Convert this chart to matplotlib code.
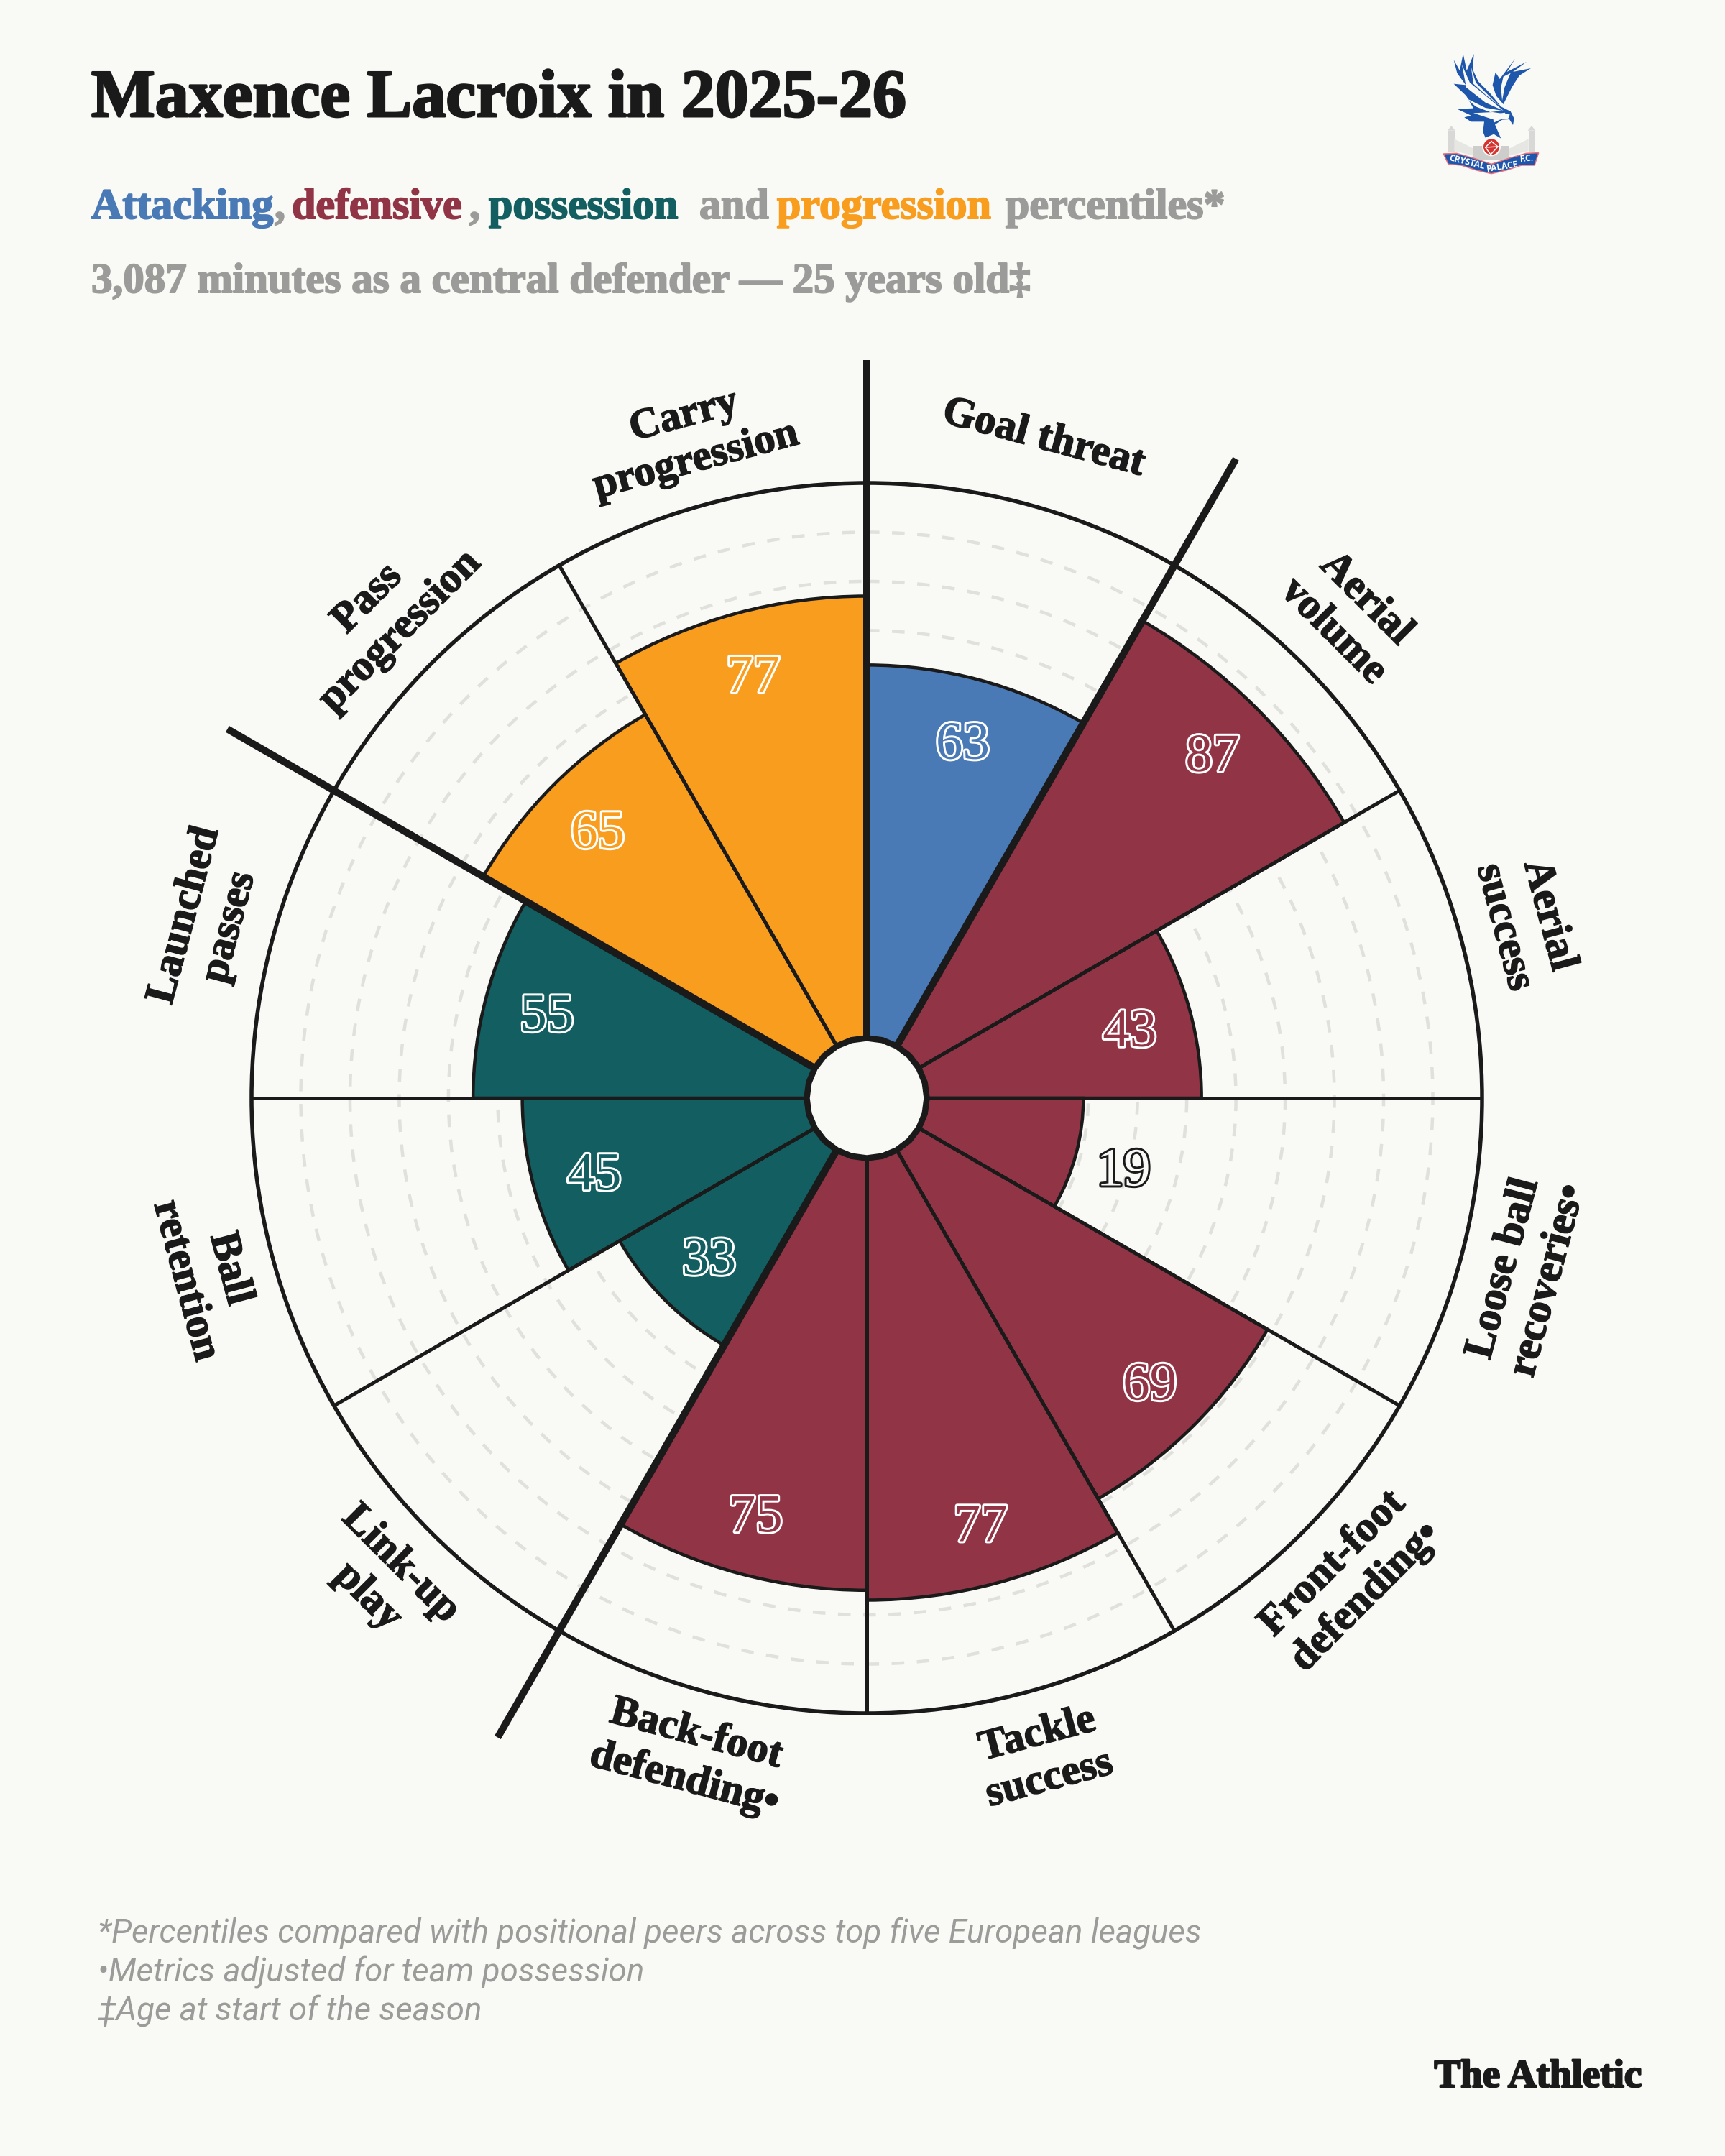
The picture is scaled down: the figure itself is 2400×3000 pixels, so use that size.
import numpy as np
import matplotlib
matplotlib.use("Agg")
import matplotlib.pyplot as plt
import matplotlib.patheffects as pe
from matplotlib.patches import Polygon, Circle, Rectangle

# Percentile data, clockwise from twelve o'clock
metrics = ["Goal threat", "Aerial\nvolume", "Aerial\nsuccess", "Loose ball\nrecoveries•",
           "Front-foot\ndefending•", "Tackle\nsuccess", "Back-foot\ndefending•", "Link-up\nplay",
           "Ball\nretention", "Launched\npasses", "Pass\nprogression", "Carry\nprogression"]
values = [63, 87, 43, 19, 69, 77, 75, 33, 45, 55, 65, 77]
groups = ["att", "def", "def", "def", "def", "def", "def", "pos", "pos", "pos", "pro", "pro"]
label_rotations = [-15, -45, -75, 75, 45, 15, -15, -45, -75, 75, 45, 15]
section_edges = [0, 30, 210, 300]

BG = "#f9f9f6"
INK = "#1a1a1a"
GREY = "#9b9b99"
PALETTE = {"att": "#4a7ab6", "def": "#913546", "pos": "#125e60", "pro": "#f99d1f"}

W, H, DPI = 2400, 3000, 100
SLAB = "Liberation Serif"


def pts(px):
    return px * 72 / DPI


fig = plt.figure(figsize=(W / DPI, H / DPI), dpi=DPI, facecolor=BG)

# Polar chart: 100 sits on the outer ring, the scale starts at -25 to leave a hub
CX, CY, R = 1206, 1528, 856
ax = fig.add_axes([(CX - R) / W, 1 - (CY + R) / H, 2 * R / W, 2 * R / H], projection="polar")
ax.set_theta_zero_location("N")
ax.set_theta_direction(-1)
ax.set_ylim(-25, 100)
ax.set_facecolor(BG)
ax.set_xticks([])
ax.set_yticks(np.arange(20, 100, 10))
ax.set_yticklabels([])
ax.tick_params(axis="y", length=0)
ax.set_axisbelow(True)
ax.yaxis.grid(True, color="#e0e0dc", lw=pts(4.5), linestyle=(0, (3.9, 3.9)))
ax.xaxis.grid(False)
ax.spines["polar"].set_color(INK)
ax.spines["polar"].set_linewidth(pts(5.5))

step = np.deg2rad(30)
centres = np.arange(len(values)) * step + step / 2

ax.bar(centres, np.array(values) + 25, width=step, bottom=-25,
       color=[PALETTE[g] for g in groups], edgecolor=INK, linewidth=pts(4.5), zorder=3)

# Thin spokes between metrics, heavier ones between sections running past the ring
for deg in range(0, 360, 30):
    if deg in section_edges:
        ax.plot([np.deg2rad(deg)] * 2, [-25, 125], color=INK, lw=pts(10), clip_on=False,
                solid_capstyle="butt", zorder=4)
    else:
        ax.plot([np.deg2rad(deg)] * 2, [-25, 100], color=INK, lw=pts(5),
                solid_capstyle="butt", zorder=4)

# Faceted hub
hub_theta = np.deg2rad(np.arange(0, 360, 15))
ax.fill(hub_theta, np.full(hub_theta.size, -12.8), facecolor=BG, edgecolor=INK,
        linewidth=pts(8.5), joinstyle="miter", zorder=5)

# Value labels: outlined numerals inside the bar, dark ones beyond a short bar
for theta, v, g in zip(centres, values, groups):
    inside = v > 25
    r = v - 12.7 if inside else v + 10
    stroke = "white" if inside else INK
    fill = PALETTE[g] if inside else BG
    ax.text(theta, r, str(v), ha="center", va="center_baseline", color=fill,
            fontsize=pts(75), family=SLAB, zorder=6,
            path_effects=[pe.Stroke(linewidth=pts(6), foreground=stroke), pe.Normal()])

# Metric names set along the outside of the ring
for theta, name, rot in zip(centres, metrics, label_rotations):
    ax.text(theta, 113.7, name, ha="center", va="center", rotation=rot, rotation_mode="anchor",
            color=INK, fontsize=pts(59), family=SLAB, weight="bold", clip_on=False,
            linespacing=1.25, multialignment="center",
            path_effects=[pe.withStroke(linewidth=pts(1.6), foreground=INK)])

# Overlay in pixel coordinates for the headline, footnotes and sign-off
ov = fig.add_axes([0, 0, 1, 1], facecolor="none")
ov.set_xlim(0, W)
ov.set_ylim(H, 0)
ov.axis("off")


def slab(x, y, s, size, color=INK, heavy=2.0, ha="left"):
    ov.text(x, y, s, color=color, fontsize=pts(size), family=SLAB, weight="bold", ha=ha, va="baseline",
            path_effects=[pe.withStroke(linewidth=pts(heavy), foreground=color)])


slab(127, 162, "Maxence Lacroix in 2025-26", 94, heavy=3)

subtitle = [(127, "Attacking", PALETTE["att"]), (382, ",", GREY), (406, "defensive", PALETTE["def"]),
            (653, ",", GREY), (680, "possession", PALETTE["pos"]), (973, "and", GREY),
            (1081, "progression", PALETTE["pro"]), (1399, "percentiles*", GREY)]
for x, s, c in subtitle:
    slab(x, 304, s, 60, c)
slab(127, 407, "3,087 minutes as a central defender — 25 years old‡", 59, GREY)

notes = ["*Percentiles compared with positional peers across top five European leagues",
         "•Metrics adjusted for team possession",
         "‡Age at start of the season"]
for y, s in zip([2702, 2756, 2810], notes):
    ov.text(136, y, s, color=GREY, fontsize=pts(45.7), family="Roboto", style="italic", va="baseline")

slab(2284, 2904, "The Athletic", 55, heavy=2.5, ha="right")

# Club crest, built from simple shapes
cr = fig.add_axes([1950 / W, 1 - 270 / H, 260 / W, 220 / H], facecolor="none")
cr.set_xlim(0, 780)
cr.set_ylim(660, 0)
cr.axis("off")
ROYAL = "#1d56ab"
STONE = "#d8d8d6"

# Ground: towers, stands and main stand
for x0 in (195, 530):
    cr.add_patch(Rectangle((x0, 395), 26, 90, fc=STONE, ec="none"))
    cr.add_patch(Polygon([(x0 - 3, 395), (x0 + 13, 375), (x0 + 29, 395)], fc=STONE, ec="none"))
cr.add_patch(Polygon([(220, 430), (300, 470), (300, 500), (220, 480)], fc="#e6e6e3", ec="none"))
cr.add_patch(Polygon([(530, 430), (450, 470), (450, 500), (530, 480)], fc="#e6e6e3", ec="none"))
cr.add_patch(Rectangle((300, 460), 150, 60, fc="#cdcdcb", ec="none"))

# Left wing and body
cr.add_patch(Polygon([(218, 100), (243, 145), (257, 75), (272, 145), (302, 75), (297, 140), (320, 190),
                      (370, 240), (415, 295), (455, 315), (470, 345), (465, 372), (450, 348), (420, 350),
                      (390, 370), (415, 428), (385, 410), (350, 425), (340, 400), (345, 358), (290, 358),
                      (262, 340), (290, 332), (232, 305), (300, 302), (270, 250), (218, 200), (268, 205),
                      (232, 155)], fc=ROYAL, ec="none"))
# Right wing
cr.add_patch(Polygon([(540, 135), (492, 165), (460, 215), (425, 285), (395, 250), (380, 205), (392, 152),
                      (410, 180), (474, 95), (440, 150), (522, 108), (465, 150)], fc=ROYAL, ec="none"))
# White feather highlights
for feather in ([(252, 120), (285, 195), (370, 265), (425, 312), (350, 278), (270, 215)],
                [(290, 130), (310, 195), (385, 270), (420, 300), (350, 245), (300, 200)],
                [(270, 260), (350, 300), (420, 312), (370, 318), (310, 295)],
                [(300, 322), (380, 318), (452, 328), (445, 345), (380, 348)],
                [(415, 215), (425, 170), (455, 155), (430, 215), (420, 270)],
                [(380, 330), (430, 320), (450, 340), (410, 350), (385, 362)]):
    cr.add_patch(Polygon(feather, fc=BG, ec="none"))

# Ball
cr.add_patch(Circle((375, 463), 36, fc="#d6322f", ec=BG, lw=pts(2)))
for seg in ([(375, 440), (350, 465), (372, 495)], [(375, 440), (402, 462), (372, 495)], [(350, 465), (402, 462)]):
    cr.plot(*zip(*seg), color=BG, lw=pts(1.5))

# Ribbon with the club name
ribbon = [(175, 492), (230, 490), (300, 510), (375, 535), (450, 510), (520, 490), (572, 488),
          (555, 540), (500, 540), (440, 560), (375, 575), (310, 560), (250, 540), (195, 535)]
cr.add_patch(Polygon(ribbon, fc=ROYAL, ec="#e8707a", lw=pts(1.5)))
for x, y, s, rot in [(272, 527, "CRYSTAL", -14), (422, 545, "PALACE", 9), (522, 511, "F.C.", 5)]:
    cr.text(x, y, s, color="white", fontsize=pts(12), family="Open Sans", weight="bold",
            ha="center", va="center", rotation=rot, rotation_mode="anchor")

fig.savefig("out.png", dpi=DPI, facecolor=BG)
